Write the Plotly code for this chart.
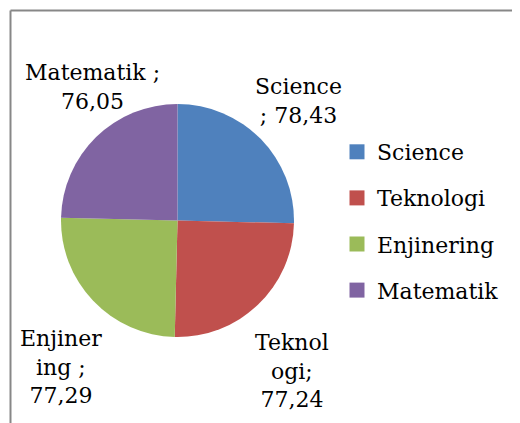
import plotly.graph_objects as go

categories = ["Science", "Teknologi", "Enjinering", "Matematik"]
values = [78.43, 77.24, 77.29, 76.05]
label_templates = ["Science<br>; {v}", "Teknol<br>ogi;<br>{v}", "Enjiner<br>ing ;<br>{v}", "Matematik ;<br>{v}"]
colors = ["#4F81BD", "#C0504D", "#9BBB59", "#8064A2"]

# page has an 8px body margin; figure sized to the visible area
OFF = 8
W, H = 512, 415
FONT = "DejaVu Serif"
FS = 22


def px(x):
    return (x - OFF) / W


def py(y):
    return 1 - (y - OFF) / H


def fmt(v):
    return f"{v:.2f}".replace(".", ",")


fig = go.Figure()
fig.add_trace(go.Pie(
    labels=categories, values=values, sort=False, direction="clockwise",
    rotation=0, marker=dict(colors=colors, line=dict(width=0)),
    textinfo="none", hoverinfo="label+value", showlegend=False,
    domain=dict(x=[px(61), px(294)], y=[py(337), py(104)]),
))

# legend entries (one per slice)
for name, col in zip(categories, colors):
    fig.add_trace(go.Scatter(
        x=[None], y=[None], mode="markers", name=name, legendgroup=name,
        marker=dict(symbol="square", size=15, color=col),
    ))

# data labels
label_pos = [(298, 101), (292, 371), (61, 367), (92, 87)]
for tpl, v, (lx, ly) in zip(label_templates, values, label_pos):
    fig.add_annotation(
        text=tpl.format(v=fmt(v)),
        x=px(lx), y=py(ly), xref="paper", yref="paper",
        xanchor="center", yanchor="middle", showarrow=False, align="center",
        font=dict(family=FONT, size=FS, color="#000000"),
    )

# chart frame
fig.add_shape(type="line", xref="paper", yref="paper",
              x0=px(10.5), x1=1.05, y0=py(10.5), y1=py(10.5),
              line=dict(color="#878787", width=2))
fig.add_shape(type="line", xref="paper", yref="paper",
              x0=px(10.5), x1=px(10.5), y0=-0.05, y1=py(10.5),
              line=dict(color="#878787", width=2))

fig.update_layout(
    width=W, height=H, margin=dict(l=0, r=0, t=0, b=0),
    paper_bgcolor="white", plot_bgcolor="white",
    xaxis=dict(visible=False), yaxis=dict(visible=False),
    showlegend=True,
    legend=dict(
        x=px(337), y=py(131), xanchor="left", yanchor="top",
        font=dict(family=FONT, size=FS, color="#000000"),
        traceorder="grouped", tracegroupgap=14.5,
        bgcolor="rgba(0,0,0,0)", borderwidth=0,
    ),
)

fig.write_html("out.html")
